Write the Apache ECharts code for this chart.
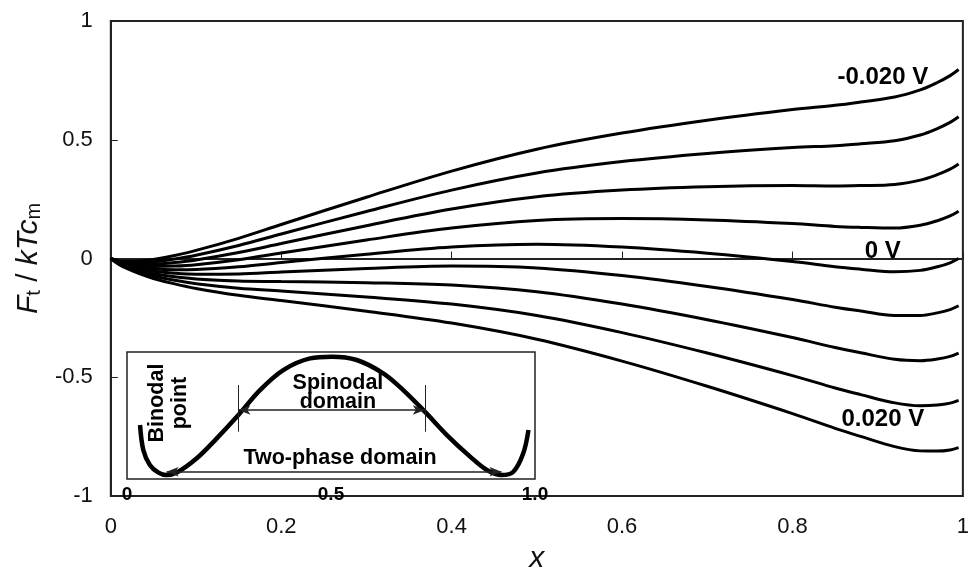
<!DOCTYPE html>
<html><head><meta charset="utf-8">
<script src="https://cdn.jsdelivr.net/npm/echarts/dist/echarts.min.js"></script>
<style>html,body{margin:0;padding:0;background:#fff}#c{width:972px;height:579px}</style>
</head><body><div id="c"></div>
<script>
// ---- data ----
const xs = [0, 0.01, 0.02, 0.035, 0.05, 0.075, 0.1, 0.15, 0.2, 0.3, 0.4, 0.5, 0.6, 0.7, 0.8, 0.85, 0.88, 0.92, 0.95, 0.97, 0.985, 0.995];
const fM020 = [0, -0.010, -0.012, -0.010, -0.004, 0.013, 0.034, 0.085, 0.143, 0.258, 0.368, 0.460, 0.528, 0.582, 0.627, 0.645, 0.659, 0.680, 0.710, 0.741, 0.770, 0.796];
const fM015 = [0, -0.012, -0.016, -0.017, -0.014, -0.002, 0.014, 0.055, 0.103, 0.198, 0.288, 0.360, 0.408, 0.442, 0.467, 0.475, 0.483, 0.496, 0.520, 0.547, 0.573, 0.597];
const fM010 = [0, -0.014, -0.020, -0.024, -0.024, -0.017, -0.006, 0.025, 0.063, 0.138, 0.208, 0.260, 0.288, 0.302, 0.307, 0.305, 0.307, 0.312, 0.330, 0.353, 0.376, 0.398];
const fM005 = [0, -0.016, -0.024, -0.031, -0.034, -0.032, -0.026, -0.005, 0.023, 0.078, 0.128, 0.160, 0.168, 0.162, 0.147, 0.135, 0.131, 0.128, 0.140, 0.159, 0.179, 0.199];
const f000  = [0, -0.018, -0.028, -0.038, -0.044, -0.047, -0.046, -0.035, -0.017, 0.018, 0.048, 0.060, 0.048, 0.022, -0.013, -0.035, -0.045, -0.056, -0.050, -0.035, -0.018, 0.000];
const fP005 = [0, -0.020, -0.032, -0.045, -0.054, -0.062, -0.066, -0.065, -0.057, -0.042, -0.032, -0.040, -0.072, -0.118, -0.173, -0.205, -0.221, -0.240, -0.240, -0.229, -0.215, -0.199];
const fP010 = [0, -0.022, -0.036, -0.052, -0.064, -0.077, -0.086, -0.095, -0.097, -0.102, -0.112, -0.140, -0.192, -0.258, -0.333, -0.375, -0.397, -0.424, -0.430, -0.423, -0.412, -0.398];
const fP015 = [0, -0.024, -0.040, -0.059, -0.074, -0.092, -0.106, -0.125, -0.137, -0.162, -0.192, -0.240, -0.312, -0.398, -0.493, -0.545, -0.573, -0.608, -0.620, -0.617, -0.609, -0.597];
const fP020 = [0, -0.026, -0.044, -0.066, -0.084, -0.107, -0.126, -0.155, -0.177, -0.222, -0.272, -0.340, -0.432, -0.538, -0.653, -0.715, -0.749, -0.792, -0.810, -0.811, -0.806, -0.796];
const curves = [fM020, fM015, fM010, fM005, f000, fP005, fP010, fP015, fP020];
const curveNames = ['-0.020 V', '-0.015 V', '-0.010 V', '-0.005 V', '0 V', '0.005 V', '0.010 V', '0.015 V', '0.020 V'];
const curveLabels = [[0.906, 0.764, '-0.020 V'], [0.906, 0.029, '0 V'], [0.906, -0.678, '0.020 V']];

// inset (double-well free energy)
const insetX = [0.032, 0.040, 0.056, 0.077, 0.097, 0.122, 0.171, 0.220, 0.273, 0.326, 0.383, 0.449, 0.502, 0.563, 0.628, 0.677, 0.730, 0.784, 0.841, 0.882, 0.918, 0.947, 0.971, 0.984];
const insetY = [0.425, 0.228, 0.110, 0.050, 0.031, 0.050, 0.163, 0.320, 0.504, 0.700, 0.858, 0.950, 0.963, 0.937, 0.832, 0.700, 0.530, 0.346, 0.176, 0.071, 0.031, 0.057, 0.200, 0.386];
const binodalX = [0.097, 0.918];
const spinodalX = [0.273, 0.730];
const insetTexts = [[0.517, 0.755, 'Spinodal'], [0.517, 0.608, 'domain'], [0.522, 0.165, 'Two-phase domain']];
const binodalText = [0.101, 0.598, 'Binodal\npoint'];

const FONT = "'Liberation Sans', Arial, sans-serif";
const chart = echarts.init(document.getElementById('c'), null, {renderer: 'canvas'});

const textSeries = (xi, yi, data, lbl) => ({
  type: 'scatter', xAxisIndex: xi, yAxisIndex: yi, silent: true, z: 5,
  symbol: 'circle', symbolSize: 0.01, itemStyle: {color: '#fff', opacity: 1},
  data: data,
  label: Object.assign({show: true, position: 'inside', formatter: p => p.value[2],
    fontFamily: FONT, fontWeight: 'bold', color: '#000', opacity: 1,
    textBorderWidth: 0, textShadowBlur: 0}, lbl),
  emphasis: {disabled: true}
});

const series = curves.map((arr, k) => ({
  name: curveNames[k], type: 'line', xAxisIndex: 0, yAxisIndex: 0,
  data: xs.map((x, i) => [x, arr[i]]),
  showSymbol: false, smooth: 0.35, silent: true,
  lineStyle: {color: '#000', width: 3}
}));

series.push(textSeries(0, 0, curveLabels, {fontSize: 24}));

series.push({
  type: 'line', xAxisIndex: 1, yAxisIndex: 1, silent: true, clip: false,
  data: insetX.map((x, i) => [x, insetY[i]]),
  showSymbol: false, smooth: 0.35,
  lineStyle: {color: '#000', width: 4.5},
  markLine: {
    silent: true, symbol: ['none', 'none'], animation: false,
    label: {show: false},
    lineStyle: {color: '#222', width: 1, type: 'solid'},
    data: [
      [{coord: [binodalX[0], -0.14]}, {coord: [binodalX[0], 0.228]}],
      [{coord: [binodalX[1], -0.14]}, {coord: [binodalX[1], 0.228]}],
      [{coord: [spinodalX[0], 0.372]}, {coord: [spinodalX[0], 0.74]}],
      [{coord: [spinodalX[1], 0.372]}, {coord: [spinodalX[1], 0.74]}],
      [{coord: [spinodalX[0], 0.543], symbol: 'arrow', symbolSize: [7, 12]},
       {coord: [spinodalX[1], 0.543], symbol: 'arrow', symbolSize: [7, 12], lineStyle: {width: 1.5}}],
      [{coord: [binodalX[0], 0.057], symbol: 'arrow', symbolSize: [7, 12]},
       {coord: [binodalX[1], 0.057], symbol: 'arrow', symbolSize: [7, 12], lineStyle: {width: 1.5}}]
    ]
  }
});

series.push(textSeries(1, 1, insetTexts, {fontSize: 21.5}));
series.push(textSeries(1, 1, [binodalText], {fontSize: 21.5, rotate: 90, lineHeight: 23, align: 'center', verticalAlign: 'middle'}));

const option = {
  animation: false,
  backgroundColor: '#fff',
  grid: [
    {left: 105, top: 21, width: 870, height: 484, show: true, borderColor: '#222', borderWidth: 2, backgroundColor: 'transparent'},
    {left: 127, top: 352, width: 408, height: 127, show: true, borderColor: '#222', borderWidth: 1.5, backgroundColor: '#fff'}
  ],
  xAxis: [
    {gridIndex: 0, type: 'value', min: 0, max: 1, interval: 0.2,
     name: 'x', nameLocation: 'middle', nameGap: 48,
     nameTextStyle: {fontFamily: FONT, fontStyle: 'italic', fontSize: 30, color: '#111'},
     axisLine: {show: true, lineStyle: {color: '#222', width: 2}},
     axisTick: {show: true, inside: true, length: 7, lineStyle: {color: '#222', width: 1}},
     axisLabel: {margin: 20, fontFamily: FONT, fontSize: 22, color: '#111'},
     splitLine: {show: false}},
    {gridIndex: 1, type: 'value', min: 0, max: 1, interval: 0.5,
     axisLine: {show: false}, axisTick: {show: false}, splitLine: {show: false},
     axisLabel: {margin: 6, fontFamily: FONT, fontWeight: 'bold', fontSize: 19, color: '#000',
       formatter: v => (v === 0 ? '0' : v === 1 ? '1.0' : String(v))}}
  ],
  yAxis: [
    {gridIndex: 0, type: 'value', min: -1, max: 1, interval: 0.5,
     name: '{i|F}{s|t}{n| / }{i|kTc}{s|m}', nameLocation: 'middle', nameGap: 58, nameRotate: 90,
     nameTextStyle: {rich: {
       i: {fontFamily: FONT, fontStyle: 'italic', fontSize: 30, lineHeight: 30, verticalAlign: 'top', color: '#111'},
       n: {fontFamily: FONT, fontSize: 30, lineHeight: 30, verticalAlign: 'top', color: '#111'},
       s: {fontFamily: FONT, fontSize: 20, lineHeight: 20, padding: [16, 0, 0, 0], verticalAlign: 'bottom', color: '#111'}
     }},
     axisLine: {show: true, lineStyle: {color: '#222', width: 2}},
     axisTick: {show: true, inside: true, length: 7, lineStyle: {color: '#222', width: 1}},
     axisLabel: {margin: 18, fontFamily: FONT, fontSize: 22, color: '#111'},
     splitLine: {show: false}},
    {gridIndex: 1, type: 'value', min: 0, max: 1, show: false, splitLine: {show: false}}
  ],
  series: series
};
chart.setOption(option);
</script></body></html>
